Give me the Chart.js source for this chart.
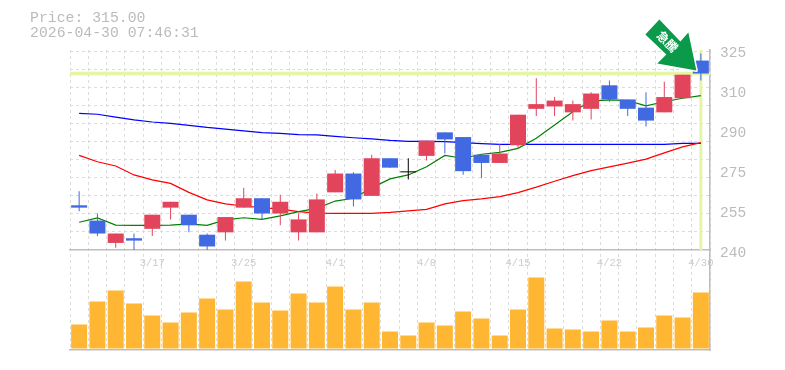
<!DOCTYPE html>
<html lang="ja">
<head>
<meta charset="utf-8">
<title>Price chart</title>
<script src="https://cdn.jsdelivr.net/npm/chart.js@4"></script>
<style>
  html, body { margin: 0; padding: 0; background: #fff; overflow: hidden; }
  #wrap { position: relative; width: 785px; height: 370px; }
  #info {
    position: absolute; left: 30px; top: 11px;
    font: 14.8px/15px "Liberation Mono", monospace; color: #bbb; white-space: pre;
  }
</style>
</head>
<body>
<div id="wrap">
  <div id="info">Price: 315.00
2026-04-30 07:46:31</div>
  <canvas id="priceChart" width="785" height="370"></canvas>
</div>
<script>
const dates = ['3/11','3/12','3/13','3/16','3/17','3/18','3/19','3/23','3/24','3/25','3/26','3/27','3/30','3/31',
  '4/1','4/2','4/3','4/6','4/7','4/8','4/9','4/10','4/13','4/14','4/15','4/16','4/17','4/20','4/21','4/22',
  '4/23','4/24','4/27','4/28','4/30'];
const shownDates = ['3/17','3/25','4/1','4/8','4/15','4/22','4/30'];

const openPrices = [259,252.5,243,245,249,258,255,246.5,247.5,258,262,255.5,247.5,247.5,264.5,272.5,263,279,273,280,
  290,288,280.5,277,284.5,300,301,298.5,300,310,304,300.5,298.5,304.5,320.5];
const highPrices = [265,255.5,247,247,255,260.5,255,247,254,266.5,262,263.5,255.5,264,274,273,280.5,279,279,286.5,
  290,288,280.5,285,297.5,313,305,303.5,307,312,304,307,311.5,314.5,323.5];
const lowPrices = [256.5,246,241,240,246,253,247.5,240,244,258,253,250.5,244,247.5,264.5,258.5,263,275,270,278,
  281,272,270.5,277,283,297,297,295,295.5,303,297,292.5,298.5,304.5,312];
const closePrices = [258,247,247,244,255,260.5,250.5,241.5,254,262,255.5,260.5,253,261.5,272.5,261.5,279,275,273,286.5,
  287,273.5,277,281,297.5,302,303.5,302,306.5,304,300,295,305,314.5,315];

const shortAverage = [251.8,253.6,250.6,250.5,250.5,250.6,251.1,250.5,252.8,253.7,253,254.5,256.3,257.7,260.8,262,266.4,
  270.2,271.9,275.4,280.2,279,280.7,281.5,283.2,287.5,293.1,298.8,303.3,303.8,303.5,301.3,303,304.5,305.6];
const midAverage = [280.2,277.5,275.7,271.9,269.8,268.3,264.5,261.3,259.6,258.7,258,257.4,256.3,255.7,255.6,255.6,255.6,
  256,256.6,257.3,259.6,261,261.7,262.7,264.4,266.7,269.2,271.6,273.7,275.3,276.9,278.6,281.3,283.8,285.6];
const longAverage = [298.1,297.7,296.5,295.3,294.4,293.8,293,292.1,291.4,290.6,289.9,289.6,289,288.9,288.3,287.7,287.2,
  286.6,286.2,286.2,286.1,285.6,285.2,284.9,284.9,284.9,284.9,284.9,284.9,284.9,284.9,284.9,284.9,285.3,285.3];

const volumes = [24,47,58,45,33,26,36,50,39,67,46,38,55,46,62,39,46,17,13,26,23,37,30,13,39,71,20,19,17,28,17,21,33,31,56];

const currentPrice = 315;
const priceTicks = [240,257,274,291,308,325];
const priceTickLabels = ['240','255','275','290','310','325'];
const priceGridLevels = [240.4,248,255.7,263.3,271,278.6,286.3,293.9,301.6,309.2,316.9,324.5];

const COLOR_UP = '#e2445c';
const COLOR_DOWN = '#4169e1';
const COLOR_FLAT = '#000000';
const COLOR_TEXT = '#bbb';
const COLOR_GRID = '#dcdcdc';
const COLOR_AXIS = '#bdbdbd';
const COLOR_NOW = '#e4f5a6';

function candleColor(i) {
  if (closePrices[i] === openPrices[i]) return COLOR_FLAT;
  return closePrices[i] > openPrices[i] ? COLOR_UP : COLOR_DOWN;
}
const candleColors = dates.map((_, i) => candleColor(i));
const lastIndex = dates.length - 1;

function barSet(label, data, color, thickness, order) {
  return {
    type: 'bar', label, data, backgroundColor: color, yAxisID: 'price',
    grouped: false, barThickness: thickness, borderWidth: 0, inflateAmount: 0, order,
  };
}
function lineSet(label, data, color, order) {
  return {
    type: 'line', label, data, borderColor: color, borderWidth: 1.2, pointRadius: 0, tension: 0,
    yAxisID: 'price', order,
  };
}

// 急騰マーク: 最終足の終値を基準に描く
const surgeArrow = {
  id: 'surgeArrow',
  afterDatasetsDraw(chart) {
    const c = chart.ctx;
    const tipX = chart.scales.x.getPixelForValue(lastIndex) - 4.5;
    const tipY = chart.scales.price.getPixelForValue(closePrices[lastIndex]) - 3;
    const shape = [[0,0],[-8,-38],[-16,-29],[-37,-51],[-51,-36],[-30,-16],[-39,-7]];
    c.save();
    c.translate(tipX, tipY);
    c.beginPath();
    shape.forEach(([x, y], i) => (i ? c.lineTo(x, y) : c.moveTo(x, y)));
    c.closePath();
    c.lineJoin = 'round';
    c.lineWidth = 3;
    c.strokeStyle = '#fff';
    c.stroke();
    c.fillStyle = '#0a9a4a';
    c.fill();
    c.translate(-29, -29);
    c.rotate(Math.PI / 4);
    c.fillStyle = '#fff';
    c.font = 'bold 12px "Noto Sans CJK JP"';
    c.textAlign = 'center';
    c.textBaseline = 'middle';
    c.fillText('急騰', 0, 0);
    c.restore();
  },
};

new Chart(document.getElementById('priceChart').getContext('2d'), {
  data: {
    labels: dates,
    datasets: [
      { ...barSet('現在値', dates.map(() => [currentPrice - 0.65, currentPrice + 0.65]), COLOR_NOW, undefined, 10),
        barThickness: undefined, barPercentage: 1, categoryPercentage: 1, inflateAmount: 0.3 },
      barSet('現在日', dates.map((_, i) => (i === lastIndex ? [240, 325] : null)), COLOR_NOW, 3, 9),
      lineSet('長期', longAverage, '#0000ff', 8),
      lineSet('中期', midAverage, '#ff0000', 7),
      lineSet('短期', shortAverage, '#008000', 6),
      barSet('高安', dates.map((_, i) => [lowPrices[i], highPrices[i]]), candleColors, 1, 3),
      { ...barSet('始終', dates.map((_, i) => [openPrices[i], closePrices[i]]), candleColors, 16, 2), minBarLength: 1 },
      { type: 'bar', label: '出来高', data: volumes, backgroundColor: '#ffb733', yAxisID: 'vol',
        grouped: false, barThickness: 16, borderWidth: 0, inflateAmount: 0, order: 1 },
    ],
  },
  options: {
    responsive: false,
    animation: false,
    layout: { padding: { left: 70, top: 50, bottom: 20, right: 0 } },
    plugins: { legend: { display: false }, title: { display: false }, tooltip: { enabled: false } },
    scales: {
      x: {
        type: 'category',
        position: { vol: 98.5 },
        offset: true,
        grid: { color: COLOR_GRID, drawTicks: false, offset: true },
        border: { color: COLOR_AXIS, width: 1.5, dash: [3, 3] },
        ticks: {
          autoSkip: false, maxRotation: 0, padding: 7, color: '#ccc',
          font: { family: '"Liberation Mono", monospace', size: 10.5 },
          callback(value) {
            const label = this.getLabelForValue(value);
            return shownDates.includes(label) ? label : '';
          },
        },
      },
      x2: {
        axis: 'x', type: 'category', labels: dates, position: 'bottom', offset: true,
        grid: { display: false, drawTicks: false },
        ticks: { display: false },
        border: { color: COLOR_AXIS, width: 1.5 },
      },
      price: {
        type: 'linear', position: 'right', stack: 'panes', stackWeight: 2, min: 240, max: 325,
        afterFit(scale) { scale.width = 75; },
        afterBuildTicks(scale) {
          scale.ticks = priceTicks.concat(priceGridLevels).map((value) => ({ value }));
        },
        grid: {
          drawTicks: false,
          color: (ctx) => (priceTicks.includes(ctx.tick.value) ? 'rgba(0,0,0,0)' : COLOR_GRID),
        },
        border: { color: COLOR_AXIS, width: 1.5, dash: [3, 3] },
        ticks: {
          autoSkip: false, padding: 10, labelOffset: 3, color: COLOR_TEXT, align: 'center', crossAlign: 'near',
          font: { family: '"Liberation Mono", monospace', size: 14.5 },
          callback(value) {
            const i = priceTicks.indexOf(value);
            return i >= 0 ? priceTickLabels[i] : '';
          },
        },
      },
      vol: {
        type: 'linear', position: 'right', stack: 'panes', stackWeight: 1, min: -1.5, max: 98.5,
        afterFit(scale) { scale.width = 75; },
        grid: { display: false, drawTicks: false },
        ticks: { display: false },
        border: { color: COLOR_AXIS, width: 1.5 },
      },
    },
  },
  plugins: [surgeArrow],
});
</script>
</body>
</html>
